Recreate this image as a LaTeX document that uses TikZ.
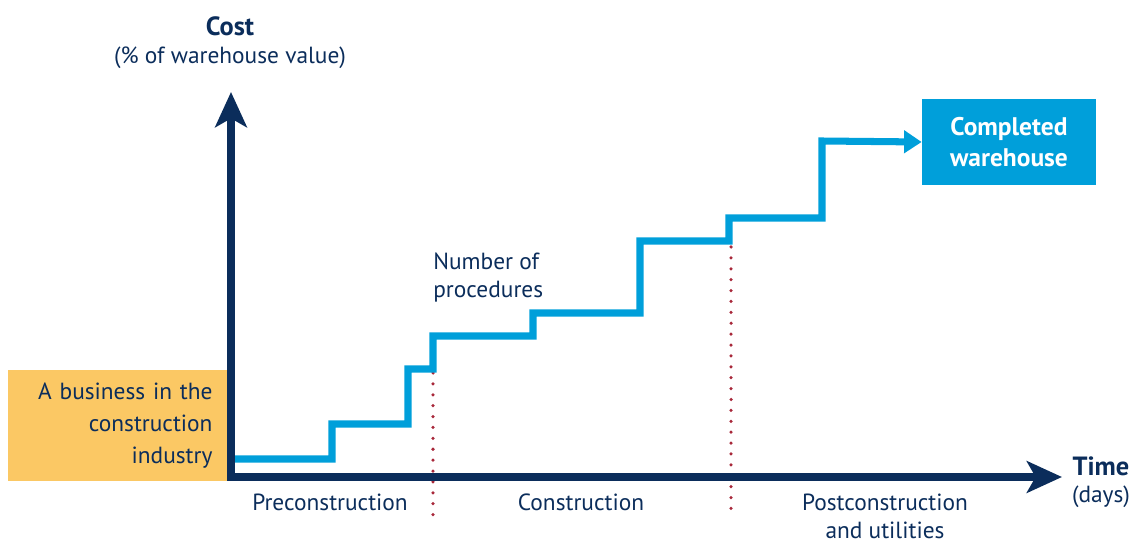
\documentclass[tikz,border=0pt]{standalone}
\usepackage{fontspec}
\setmainfont{PT Sans}
\usetikzlibrary{arrows.meta,positioning}
\definecolor{navy}{HTML}{0B2D5B}
\definecolor{skyblue}{HTML}{009FDA}
\definecolor{amber}{HTML}{FBC864}
\definecolor{wine}{HTML}{A8283A}
\begin{document}
\begin{tikzpicture}[x=0.02cm,y=-0.02cm,font=\fontsize{13.3}{16}\selectfont,
    axis/.style={navy,line width=4.5pt,-{Stealth[length=20pt,width=18pt,inset=5pt]}},
    stairs/.style={skyblue,line width=4pt,-{Triangle[length=10pt,width=12.5pt]}},
    phase/.style={wine,line width=2pt,line cap=round,dash pattern=on 0pt off 6.2pt},
    txt/.style={text=navy,inner sep=0pt,align=center},
    heading/.style={txt,font=\fontsize{15}{16}\selectfont\bfseries},
    business/.style={fill=amber,text=navy,align=right,text width=3.8cm,inner xsep=0.29cm,
                     minimum height=2.22cm,font=\fontsize{13.3}{18}\selectfont},
    goal/.style={fill=skyblue,text=white,align=center,minimum width=3.48cm,
                 minimum height=1.72cm,font=\fontsize{14.5}{18}\selectfont\bfseries}]

    \useasboundingbox (0,0) rectangle (1136,543);

    \node[business] (biz) at (117.5,425.5) {A business in the\\construction\\industry};
    \node[goal] (done) at (1009,142) {Completed\\warehouse};

    \coordinate (origin) at (231,477);
    \coordinate (ytip) at (231,92);
    \coordinate (xtip) at (1062,477);
    \coordinate (start) at (231,459);

    % phase boundaries
    \coordinate (p1top) at (433,373);
    \coordinate (p1bot) at (433,515);
    \coordinate (p2top) at (731,247);
    \coordinate (p2bot) at (731,515);
    \draw[phase] (p1top) -- (p1bot);
    \draw[phase] (p2top) -- (p2bot);

    \draw[stairs] (start) -| (332,424) -| (408,369) -| (433,336) -| (533,313)
                  -| (640,241) -| (729,218) -| (822,141) -- (done.west);

    \draw[axis,shorten <=-2.25pt] (origin) -- (ytip);
    \draw[axis,shorten <=-2.25pt] (origin) -- (xtip);

    \node[heading,anchor=base] (cost) at (230,36) {Cost};
    \node[txt,anchor=base] (unit) at (230,64) {(\% of warehouse value)};
    \node[heading,anchor=base] (time) at (1101,476) {Time};
    \node[txt,anchor=base] (days) at (1101,503) {(days)};
    \node[txt,align=left,anchor=base west] (count) at (433,298) {Number of\\procedures};

    \node[txt,anchor=base] (pre) at (330,511) {Preconstruction};
    \node[txt,anchor=base] (build) at (581,511) {Construction};
    \node[txt,anchor=base] (post) at (885,539) {Postconstruction\\and utilities};
\end{tikzpicture}
\end{document}
